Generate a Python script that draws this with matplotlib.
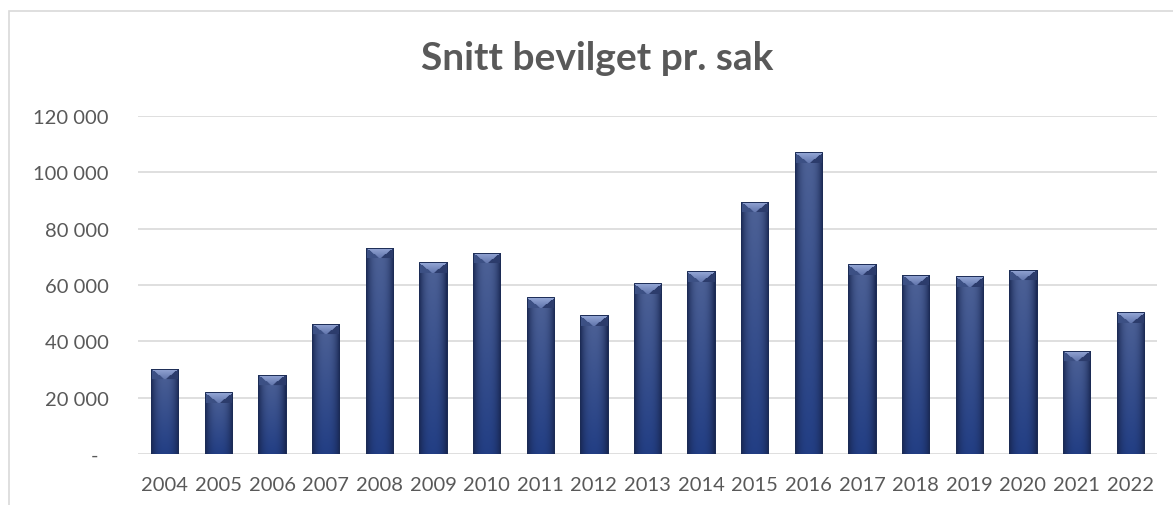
import numpy as np
import matplotlib
matplotlib.use("Agg")
import matplotlib.pyplot as plt
import matplotlib.transforms as mtransforms
from matplotlib.patches import Rectangle

plt.rcParams['font.family'] = ['Lato', 'DejaVu Sans']

years = ["2004", "2005", "2006", "2007", "2008", "2009", "2010", "2011", "2012", "2013",
         "2014", "2015", "2016", "2017", "2018", "2019", "2020", "2021", "2022"]
values = [30300, 22000, 28100, 46200, 73300, 68100, 71500, 55600, 49200, 60700,
          64800, 89500, 107200, 67300, 63700, 63100, 65500, 36600, 50400]
yticks = [0, 20000, 40000, 60000, 80000, 100000, 120000]
ytick_labels = ["-", "20 000", "40 000", "60 000", "80 000", "100 000", "120 000"]
title = "Snitt bevilget pr. sak"

W_PX, H_PX = 1173, 506
fig = plt.figure(figsize=(W_PX / 100, H_PX / 100), dpi=100)
ax = fig.add_axes([138 / W_PX, 51 / H_PX, 1019 / W_PX, 338 / H_PX])

x = np.arange(len(years))
bars = ax.bar(x, values, width=0.51, color='#2a4680', edgecolor='#1c2c55',
              linewidth=0.6, zorder=2)
ax.set_xlim(-0.5, len(years) - 0.5)
ax.set_ylim(0, 120000)


def bar_image(W, H):
    W = max(W, 2)
    H = max(H, 2)
    u = (np.arange(W) + 0.5) / W
    v = (np.arange(H) + 0.5) / H
    U, V = np.meshgrid(u, v)
    c_top = np.array([78, 98, 150]) / 255
    c_bot = np.array([34, 62, 132]) / 255
    edge = np.array([24, 38, 80]) / 255
    center = c_top[None, None, :] * (1 - V[..., None]) + c_bot[None, None, :] * V[..., None]
    m = np.abs(2 * U - 1) ** 2.5
    img = center * (1 - m[..., None]) + edge[None, None, :] * m[..., None]
    # bevel at the top
    b = min(11, H // 2)
    rows = np.arange(H)[:, None]
    cols = np.arange(W)[None, :]
    half = W / 2
    dist = np.minimum(cols + 0.5, W - cols - 0.5)
    top = (rows < b * dist / half) & (rows < b)
    left = (rows < b) & (~top) & (cols < half)
    right = (rows < b) & (~top) & (cols >= half)
    t_hi = np.array([150, 168, 215]) / 255
    t_lo = np.array([95, 115, 170]) / 255
    frac = np.clip(rows / max(b, 1), 0, 1)
    top_col = t_hi[None, None, :] * (1 - frac[..., None]) + t_lo[None, None, :] * frac[..., None]
    top_col = np.broadcast_to(top_col, (H, W, 3))
    img[top] = top_col[top]
    img[left] = np.array([60, 80, 132]) / 255
    img[right] = np.array([44, 60, 108]) / 255
    return img


for p in bars:
    x0, w, h = p.get_x(), p.get_width(), p.get_height()
    (px0, py0) = ax.transData.transform((x0, 0))
    (px1, py1) = ax.transData.transform((x0 + w, h))
    img = bar_image(int(round(px1 - px0)), int(round(py1 - py0)))
    im = ax.imshow(img, extent=(x0, x0 + w, 0, h), origin='upper', aspect='auto',
                   interpolation='bilinear', zorder=2.5)
    im.set_clip_path(p)
    ax.add_patch(Rectangle((x0, 0), w, h, fill=False, edgecolor='#1c2c55',
                           linewidth=0.7, zorder=3))

ax.set_xlim(-0.5, len(years) - 0.5)
ax.set_ylim(0, 120000)

ax.set_yticks(yticks, labels=ytick_labels)
ax.set_xticks(x, labels=years)
ax.tick_params(axis='y', length=0, pad=21, labelsize=14.5, labelcolor='#595959')
ax.tick_params(axis='x', length=0, pad=15.5, labelsize=14.5, labelcolor='#595959')
ax.yaxis.grid(True, color='#d9d9d9', linewidth=1.2, zorder=0)
ax.set_axisbelow(True)
for s in ax.spines.values():
    s.set_visible(False)

# the dash for zero sits a little left of the other labels
lab0 = ax.get_yticklabels()[0]
lab0.set_transform(lab0.get_transform() + mtransforms.ScaledTranslation(-11 / 100, 0, fig.dpi_scale_trans))

fig.text(597 / W_PX, 1 - 59 / H_PX, title, ha='center', va='center', fontsize=28,
         fontweight='bold', color='#595959')

fig.patches.append(Rectangle((9 / W_PX, -0.1), 1.2, (H_PX - 12) / H_PX + 0.1,
                             transform=fig.transFigure, fill=False,
                             edgecolor='#d9d9d9', linewidth=1.2))

fig.savefig('out.png', dpi=100)
